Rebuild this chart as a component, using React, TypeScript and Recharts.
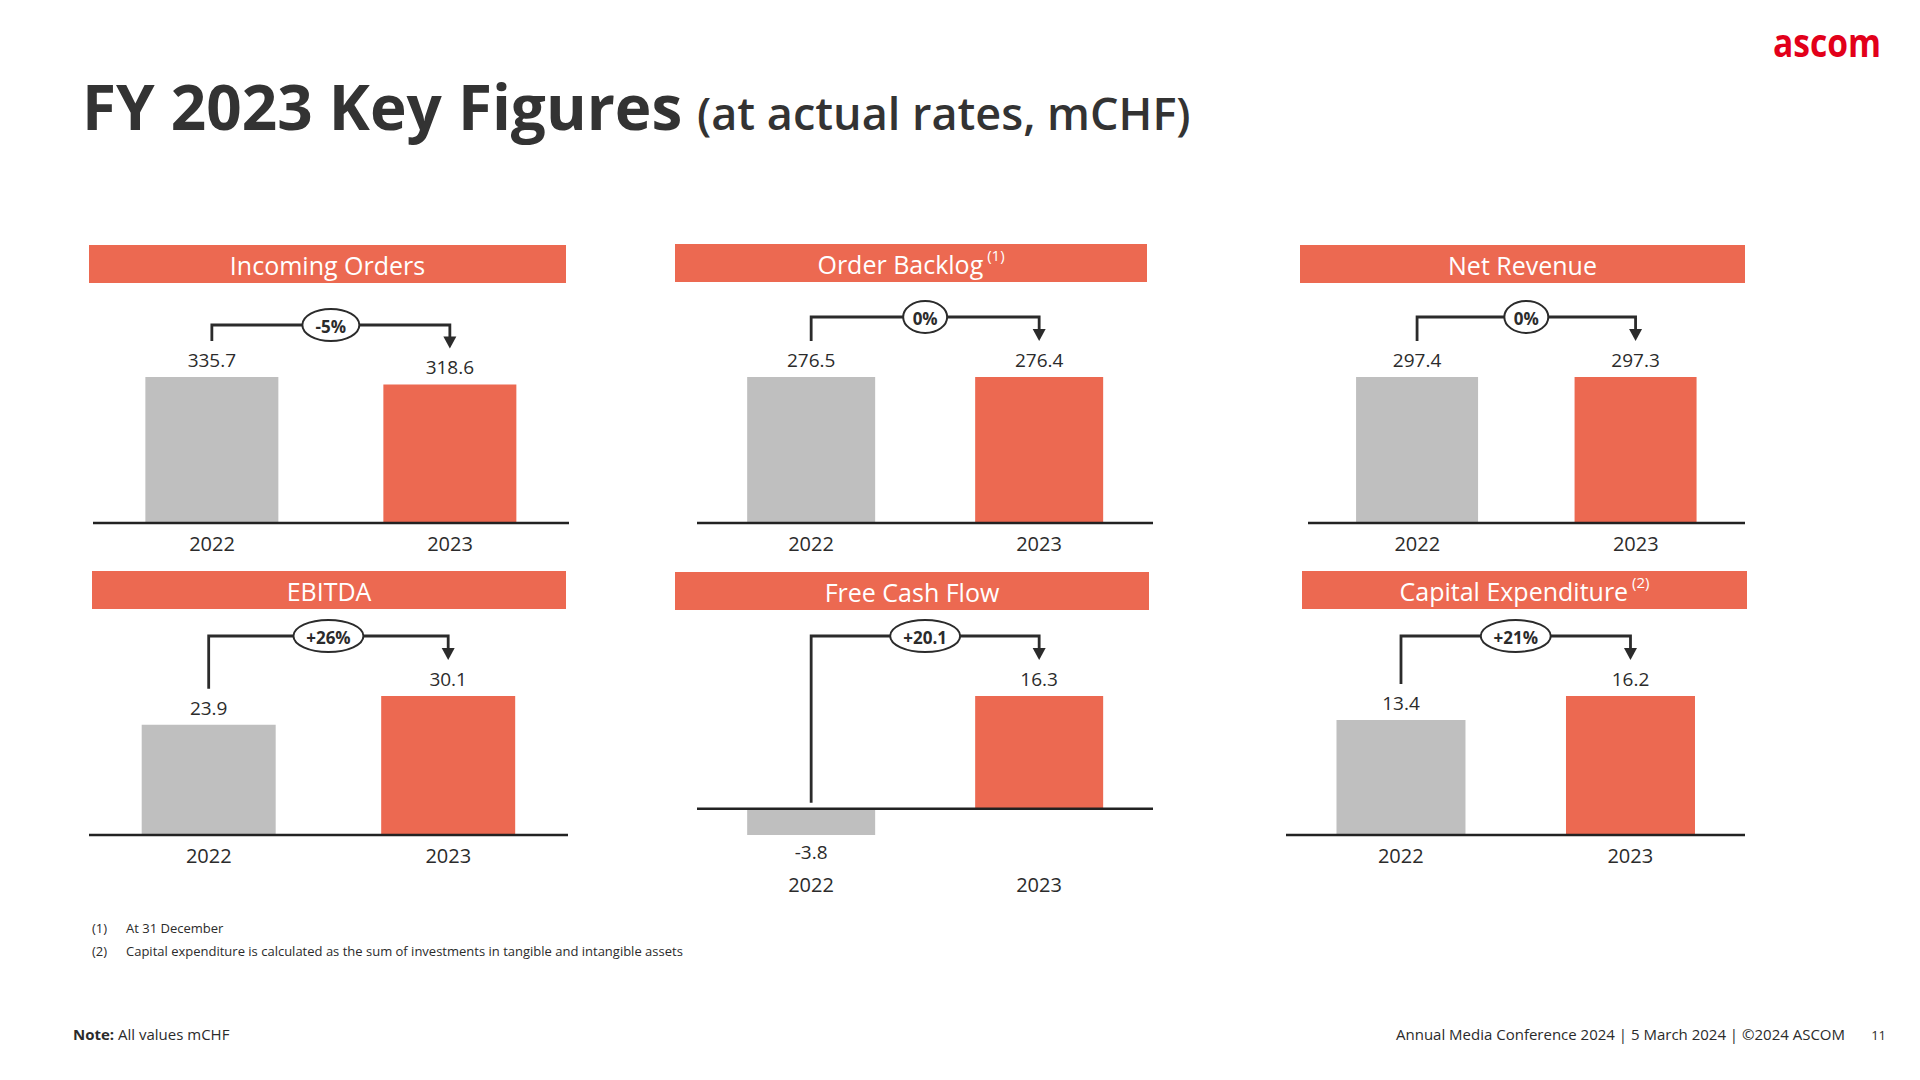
import React from 'react';
import { BarChart, Bar, XAxis, YAxis, Cell, LabelList, ReferenceLine } from 'recharts';

const years = ['2022', '2023'];
const panelTitles = ['Incoming Orders', 'Order Backlog', 'Net Revenue', 'EBITDA', 'Free Cash Flow', 'Capital Expenditure'];
const panelNotes = ['', '(1)', '', '', '', '(2)'];
const values2022 = [335.7, 276.5, 297.4, 23.9, -3.8, 13.4];
const values2023 = [318.6, 276.4, 297.3, 30.1, 16.3, 16.2];
const changeLabels = ['-5%', '0%', '0%', '+26%', '+20.1', '+21%'];
const footnotes = [
  ['(1)', 'At 31 December'],
  ['(2)', 'Capital expenditure is calculated as the sum of investments in tangible and intangible assets'],
];

const RED = '#ec6951';
const GRAY = '#bfbfbf';
const INK = '#2b2b2b';
const FONT = '"Open Sans", Lato, sans-serif';

// where each small chart sits on the 1920x1080 slide
const boxes = [
  { hx: 89, hy: 245, hw: 477, left: 93, width: 476, top: 290, plotTop: 377, plotH: 146, lift: 52, yearGap: 20 },
  { hx: 675, hy: 244, hw: 472, left: 697, width: 456, top: 290, plotTop: 377, plotH: 146, lift: 60, yearGap: 20 },
  { hx: 1300, hy: 245, hw: 445, left: 1308, width: 437, top: 290, plotTop: 377, plotH: 146, lift: 60, yearGap: 20 },
  { hx: 92, hy: 571, hw: 474, left: 89, width: 479, top: 615, plotTop: 696, plotH: 139, lift: 60, yearGap: 20 },
  { hx: 675, hy: 572, hw: 474, left: 697, width: 456, top: 615, plotTop: 696, plotH: 139, lift: 60, yearGap: 49 },
  { hx: 1302, hy: 571, hw: 445, left: 1286, width: 459, top: 615, plotTop: 696, plotH: 139, lift: 60, yearGap: 20 },
];

const AXIS_H = 70;

function barEnds(p: any) {
  const y = Number(p.y);
  const h = Number(p.height);
  return { top: Math.min(y, y + h), bottom: Math.max(y, y + h) };
}

const ValueLabel = (props: any) => {
  const v = Number(props.value);
  const { top, bottom } = barEnds(props);
  const cx = Number(props.x) + Number(props.width) / 2;
  const ty = v >= 0 ? top - 17 : bottom + 17;
  return (
    <text x={cx} y={ty} textAnchor="middle" dominantBaseline="central" fontSize={19} fill={INK} fontFamily={FONT}>
      {v.toFixed(1)}
    </text>
  );
};

// bracket with the change badge, drawn from the 2023 bar
function makeBracket(i: number) {
  const box = boxes[i];
  return (props: any) => {
    if (props.index !== 1) return null;
    const v0 = values2022[i];
    const v1 = values2023[i];
    const { top, bottom } = barEnds(props);
    const zero = bottom;
    const perUnit = (bottom - top) / v1;
    const end0 = zero - v0 * perUnit;
    const c1 = Number(props.x) + Number(props.width) / 2;
    const c0 = c1 - box.width / 2;
    const hy = Math.min(end0, zero, top) - box.lift;
    const leg0 = v0 >= 0 ? end0 - 36 : zero - 6;
    const tip = top - 36;
    const label = changeLabels[i];
    const rx = 9 + label.replace('.', '').length * 6.5;
    return (
      <g>
        <path d={`M${c0},${leg0}V${hy}H${c1}V${tip - 10}`} fill="none" stroke={INK} strokeWidth={2.8} />
        <polygon points={`${c1 - 6.5},${tip - 12} ${c1 + 6.5},${tip - 12} ${c1},${tip}`} fill={INK} />
        <ellipse cx={(c0 + c1) / 2} cy={hy} rx={rx} ry={16} fill="#fff" stroke={INK} strokeWidth={2} />
        <text x={(c0 + c1) / 2} y={hy + 1} textAnchor="middle" dominantBaseline="central" fontSize={17} fontWeight={700} fill={INK} fontFamily={FONT}>
          {label}
        </text>
      </g>
    );
  };
}

function Panel({ i }: { i: number }) {
  const box = boxes[i];
  const data = years.map((year, k) => ({ year, value: k === 0 ? values2022[i] : values2023[i] }));
  const marginTop = box.plotTop - box.top;
  return (
    <div style={{ position: 'absolute', left: box.left, top: box.top }}>
      <BarChart
        width={box.width}
        height={marginTop + box.plotH + AXIS_H}
        data={data}
        margin={{ top: marginTop, right: 0, bottom: 0, left: 0 }}
        barCategoryGap="22%"
      >
        <XAxis
          dataKey="year"
          axisLine={false}
          tickLine={false}
          tickSize={0}
          tickMargin={0}
          height={AXIS_H}
          interval={0}
          tick={(t: any) => (
            <text x={t.x} y={t.y + box.yearGap} textAnchor="middle" dominantBaseline="central" fontSize={20} fill={INK} fontFamily={FONT}>
              {t.payload.value}
            </text>
          )}
        />
        <YAxis hide domain={[(min: number) => Math.min(0, min), 'dataMax']} />
        <Bar dataKey="value" isAnimationActive={false}>
          {data.map((d, k) => (
            <Cell key={d.year} fill={k === 0 ? GRAY : RED} />
          ))}
          <LabelList dataKey="value" content={ValueLabel} />
          <LabelList dataKey="value" content={makeBracket(i)} />
        </Bar>
        <ReferenceLine y={0} stroke="#222" strokeWidth={2.5} />
      </BarChart>
    </div>
  );
}

export default function App() {
  return (
    <div style={{ position: 'absolute', left: 0, top: 0, width: 1920, height: 1080, background: '#fff', overflow: 'hidden', fontFamily: FONT }}>
      <svg width={1920} height={1080} style={{ position: 'absolute', left: 0, top: 0 }}>
        <text x={1773} y={57} fontSize={40} fontWeight={700} fill="#e2001a" fontFamily={FONT} textLength={108} lengthAdjust="spacingAndGlyphs">
          ascom
        </text>
        <text x={82} y={130} fontSize={62} fontWeight={700} fill="#333" fontFamily={FONT}>
          FY 2023 Key Figures
        </text>
        <text x={697} y={130} fontSize={45} fontWeight={600} fill="#333" fontFamily={FONT}>
          (at actual rates, mCHF)
        </text>
        {boxes.map((b, i) => (
          <g key={panelTitles[i]}>
            <rect x={b.hx} y={b.hy} width={b.hw} height={38} fill={RED} />
            <text x={b.hx + b.hw / 2} y={b.hy + 20} textAnchor="middle" dominantBaseline="central" fontSize={25} fill="#fff" fontFamily={FONT}>
              {panelTitles[i]}
              {panelNotes[i] ? (
                <tspan fontSize={15} dy={-9}>
                  {' ' + panelNotes[i]}
                </tspan>
              ) : null}
            </text>
          </g>
        ))}
        {footnotes.map((f, k) => (
          <g key={f[0]}>
            <text x={92} y={933 + k * 23} fontSize={13} fill={INK} fontFamily={FONT}>
              {f[0]}
            </text>
            <text x={126} y={933 + k * 23} fontSize={13} fill={INK} fontFamily={FONT}>
              {f[1]}
            </text>
          </g>
        ))}
        <text x={73} y={1040} fontSize={15} fill={INK} fontFamily={FONT}>
          <tspan fontWeight={700}>Note:</tspan> All values mCHF
        </text>
        <text x={1845} y={1040} textAnchor="end" fontSize={15} fill={INK} fontFamily={FONT}>
          Annual Media Conference 2024 | 5 March 2024 | ©2024 ASCOM
        </text>
        <text x={1886} y={1040} textAnchor="end" fontSize={13} fill={INK} fontFamily={FONT}>
          11
        </text>
      </svg>
      {boxes.map((b, i) => (
        <Panel key={panelTitles[i]} i={i} />
      ))}
    </div>
  );
}
